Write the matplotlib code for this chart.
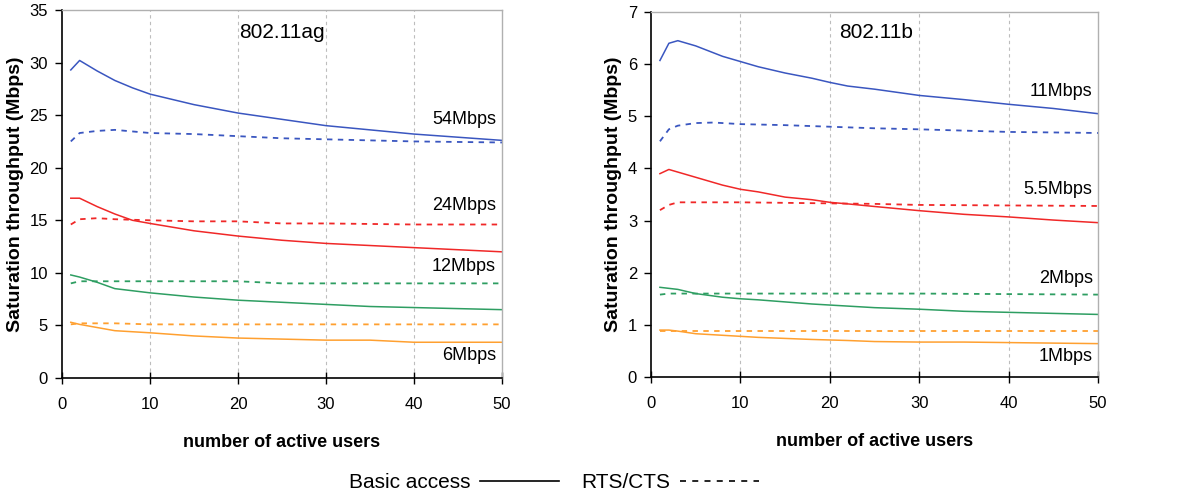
import matplotlib
matplotlib.use("Agg")
import matplotlib.pyplot as plt
from matplotlib.lines import Line2D
import numpy as np

plt.rcParams['font.family'] = ['Liberation Sans', 'DejaVu Sans']

# ---------------- 802.11ag ----------------
ag_x_basic = [1, 2, 4, 6, 8, 10, 15, 20, 25, 30, 35, 40, 45, 50]
ag_54_basic = [29.3, 30.2, 29.2, 28.3, 27.6, 27.0, 26.0, 25.2, 24.6, 24.0, 23.6, 23.2, 22.9, 22.6]
ag_24_basic = [17.1, 17.1, 16.3, 15.6, 15.0, 14.7, 14.0, 13.5, 13.1, 12.8, 12.6, 12.4, 12.2, 12.0]
ag_12_basic = [9.8, 9.6, 9.1, 8.5, 8.3, 8.1, 7.7, 7.4, 7.2, 7.0, 6.8, 6.7, 6.6, 6.5]
ag_6_basic = [5.3, 5.1, 4.8, 4.5, 4.4, 4.3, 4.0, 3.8, 3.7, 3.6, 3.6, 3.4, 3.4, 3.4]

ag_x_rts = [1, 2, 4, 6, 10, 15, 20, 25, 30, 40, 50]
ag_54_rts = [22.5, 23.3, 23.5, 23.6, 23.3, 23.2, 23.0, 22.8, 22.7, 22.5, 22.4]
ag_24_rts = [14.6, 15.1, 15.2, 15.1, 15.0, 14.9, 14.9, 14.7, 14.7, 14.6, 14.6]
ag_12_rts = [9.0, 9.2, 9.2, 9.2, 9.2, 9.2, 9.2, 9.0, 9.0, 9.0, 9.0]
ag_6_rts = [5.1, 5.2, 5.2, 5.2, 5.1, 5.1, 5.1, 5.1, 5.1, 5.1, 5.1]

# ---------------- 802.11b ----------------
b_x_basic = [1, 2, 3, 5, 8, 10, 12, 15, 18, 20, 22, 25, 30, 35, 40, 45, 50]
b_11_basic = [6.07, 6.40, 6.45, 6.35, 6.15, 6.05, 5.95, 5.83, 5.73, 5.65, 5.58, 5.52, 5.40, 5.32, 5.23, 5.15, 5.05]
b_55_basic = [3.90, 3.98, 3.93, 3.83, 3.68, 3.60, 3.55, 3.45, 3.40, 3.35, 3.32, 3.27, 3.19, 3.12, 3.07, 3.01, 2.96]
b_2_basic = [1.72, 1.70, 1.68, 1.60, 1.53, 1.50, 1.48, 1.44, 1.40, 1.38, 1.36, 1.33, 1.30, 1.26, 1.24, 1.22, 1.20]
b_1_basic = [0.90, 0.90, 0.88, 0.83, 0.80, 0.78, 0.76, 0.74, 0.72, 0.71, 0.70, 0.68, 0.67, 0.67, 0.66, 0.65, 0.64]

b_x_rts = [1, 2, 3, 5, 7, 10, 15, 20, 25, 30, 40, 50]
b_11_rts = [4.52, 4.75, 4.82, 4.87, 4.88, 4.85, 4.83, 4.80, 4.77, 4.75, 4.70, 4.68]
b_55_rts = [3.20, 3.30, 3.35, 3.35, 3.35, 3.35, 3.34, 3.33, 3.32, 3.30, 3.29, 3.28]
b_2_rts = [1.58, 1.60, 1.60, 1.60, 1.60, 1.60, 1.60, 1.60, 1.60, 1.60, 1.59, 1.58]
b_1_rts = [0.88, 0.88, 0.88, 0.88, 0.88, 0.88, 0.88, 0.88, 0.88, 0.88, 0.88, 0.88]

colors = ['#3a56c0', '#f02828', '#2e9e62', '#ffa030']
ag_rates = ['54Mbps', '24Mbps', '12Mbps', '6Mbps']
ag_label_y = [24.6, 16.4, 10.6, 2.1]
b_rates = ['11Mbps', '5.5Mbps', '2Mbps', '1Mbps']
b_label_y = [5.47, 3.6, 1.88, 0.4]

W, H = 1188, 501
fig = plt.figure(figsize=(W / 100, H / 100), dpi=100)
ax1 = fig.add_axes([62 / W, (H - 378) / H, 440 / W, 368 / H])
ax2 = fig.add_axes([651 / W, (H - 377) / H, 447 / W, 365 / H])


def style(ax, ymax, ystep):
    ax.set_xlim(0, 50)
    ax.set_ylim(0, ymax)
    ax.set_xticks(np.arange(0, 51, 10))
    ax.set_yticks(np.arange(0, ymax + 0.001, ystep))
    ax.tick_params(axis='x', labelsize=12, length=9, width=1, direction='inout', pad=9)
    ax.tick_params(axis='y', labelsize=12, length=5, width=1, direction='out', pad=5)
    for s in ['left', 'bottom']:
        ax.spines[s].set_color('black')
        ax.spines[s].set_linewidth(1.2)
    for s in ['top', 'right']:
        ax.spines[s].set_color('#b0b0b0')
        ax.spines[s].set_linewidth(1.0)
    for xv in [10, 20, 30, 40]:
        ax.axvline(xv, color='#bdbdbd', lw=0.8, ls=(0, (3, 3)), zorder=0)
    ax.set_xlabel('number of active users', fontsize=13, fontweight='bold', labelpad=16)
    ax.set_ylabel('Saturation throughput (Mbps)', fontsize=14, fontweight='bold', labelpad=4)


style(ax1, 35, 5)
style(ax2, 7, 1)

for c, yb, yr, lab, ly in zip(colors, [ag_54_basic, ag_24_basic, ag_12_basic, ag_6_basic],
                              [ag_54_rts, ag_24_rts, ag_12_rts, ag_6_rts], ag_rates, ag_label_y):
    ax1.plot(ag_x_basic, yb, color=c, lw=1.1)
    ax1.plot(ag_x_rts, yr, color=c, lw=1.3, ls=(0, (3, 3)))
    ax1.text(49.3, ly, lab, ha='right', va='center', fontsize=13)

for c, yb, yr, lab, ly in zip(colors, [b_11_basic, b_55_basic, b_2_basic, b_1_basic],
                              [b_11_rts, b_55_rts, b_2_rts, b_1_rts], b_rates, b_label_y):
    ax2.plot(b_x_basic, yb, color=c, lw=1.1)
    ax2.plot(b_x_rts, yr, color=c, lw=1.3, ls=(0, (3, 3)))
    ax2.text(49.4, ly, lab, ha='right', va='center', fontsize=13)

ax1.text(25, 32.9, '802.11ag', ha='center', va='center', fontsize=15)
ax2.text(25.2, 6.6, '802.11b', ha='center', va='center', fontsize=15)

handles = [Line2D([], [], color='black', lw=1.2),
           Line2D([], [], color='black', lw=1.2, ls=(0, (3.6, 3.75)))]
fig.legend(handles, ['Basic access', 'RTS/CTS'], loc='center', bbox_to_anchor=(554 / W, (H - 483) / H),
           ncol=2, frameon=False, markerfirst=False, handlelength=3.8, fontsize=15,
           columnspacing=1.1, handletextpad=0.45)

fig.savefig('out.png', dpi=100)
